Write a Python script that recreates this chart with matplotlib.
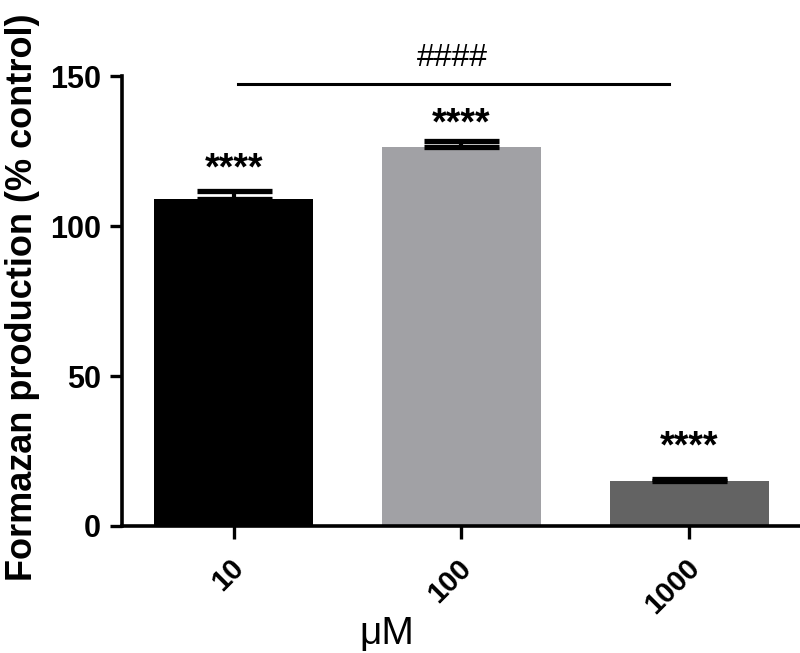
import matplotlib
matplotlib.use("Agg")
from matplotlib import pyplot as plt
from matplotlib import font_manager
from matplotlib import transforms
import numpy as np

# data
doses = ["10", "100", "1000"]
means = [109.0, 126.3, 15.0]
sems = [2.8, 2.2, 0.6]
bar_colors = ["#000000", "#a1a1a5", "#636363"]
stars = ["****", "****", "****"]
star_gap = [7.0, 5.5, 10.5]


def find_font(name):
    for path in font_manager.findSystemFonts():
        if path.endswith(name):
            return path
    return None


bold_path = find_font("LiberationSans-Bold.ttf")
reg_path = find_font("LiberationSans-Regular.ttf")


def fp(size, bold=True):
    path = bold_path if bold else reg_path
    if path:
        return font_manager.FontProperties(fname=path, size=size)
    return font_manager.FontProperties(family="DejaVu Sans", size=size,
                                       weight="bold" if bold else "normal")


fig = plt.figure(figsize=(8.0, 6.53), dpi=100)
ax = fig.add_axes([0.1525, 0.1945, 0.86, 0.689])

x = np.arange(len(doses))
ax.bar(x, means, width=0.7, color=bar_colors, zorder=2)
ax.errorbar(x, means, yerr=[np.zeros(len(sems)), sems], fmt="none",
            ecolor="black", elinewidth=3, capsize=27, capthick=3.8, zorder=3)

for xi, m, s, g, st in zip(x, means, sems, star_gap, stars):
    ax.text(xi, m + s + g, st, ha="center", va="center",
            fontproperties=fp(27))

# comparison line 10 vs 1000
ax.plot([x[0] + 0.02, x[2] - 0.09], [147.3, 147.3], color="black", lw=2.2,
        clip_on=False)
ax.text((x[0] + x[2]) / 2 - 0.04, 156, "####", ha="center", va="center",
        fontproperties=fp(23, bold=False), clip_on=False)

ax.set_xlim(-0.49, 2.53)
ax.set_ylim(0, 150)
ax.set_yticks([0, 50, 100, 150])
ax.set_xticks(x)
ax.set_xticklabels(doses, rotation=45, ha="right", rotation_mode="anchor")

for side in ("top", "right"):
    ax.spines[side].set_visible(False)
for side in ("left", "bottom"):
    ax.spines[side].set_linewidth(2.6)

ax.tick_params(axis="both", width=2.4, length=9)
ax.tick_params(axis="y", pad=6)
ax.tick_params(axis="x", pad=11)
shift = transforms.ScaledTranslation(-4 / 100, 0, fig.dpi_scale_trans)
for lab in ax.get_xticklabels():
    lab.set_fontproperties(fp(21))
    lab.set_transform(lab.get_transform() + shift)
for lab in ax.get_yticklabels():
    lab.set_fontproperties(fp(22))

ax.set_ylabel("Formazan production (% control)", fontproperties=fp(26))
ax.yaxis.set_label_coords(-0.119, 0.509)
ax.set_xlabel("\u03bcM", fontproperties=fp(28, bold=False))
ax.xaxis.set_label_coords(0.385, -0.2)

fig.savefig("out.png", dpi=100)
